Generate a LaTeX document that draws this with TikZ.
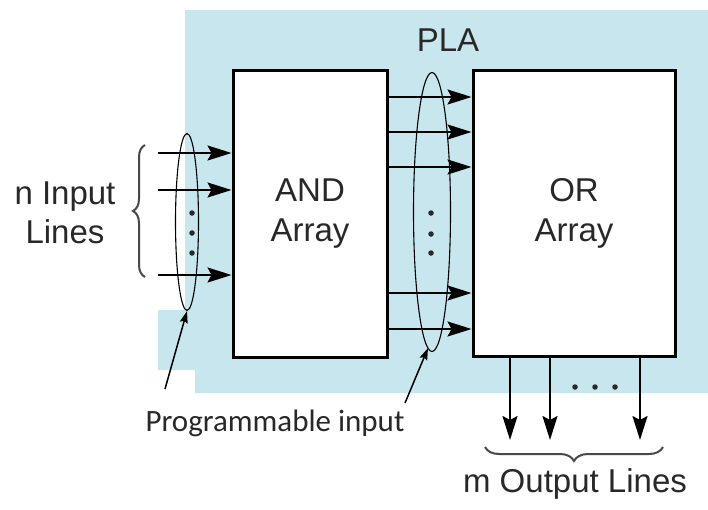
\documentclass[tikz,border=0pt]{standalone}
\usepackage{fontspec}
\setmainfont{Liberation Sans}
\newfontfamily\calfont{Carlito}
\usetikzlibrary{positioning,arrows.meta,shapes.geometric}
\usetikzlibrary{decorations.pathreplacing}
\usetikzlibrary{calc}

\definecolor{plablue}{RGB}{200,230,238}
\definecolor{inkgray}{RGB}{40,40,40}

\begin{document}
\begin{tikzpicture}[x=1pt,y=-1pt,
    arraybox/.style={draw,line width=3pt,fill=white,align=center,
      font=\fontsize{33}{40}\selectfont,text=inkgray,inner sep=0pt},
    sig/.style={line width=2pt,-{Stealth[length=24pt,width=15pt,inset=4pt]}},
    pick/.style={draw,line width=1.1pt,ellipse,inner sep=0pt},
    lbl/.style={text=inkgray,font=\fontsize{33}{39}\selectfont,align=center},
    dotm/.style={fill=inkgray,circle,inner sep=0pt,minimum size=5.5pt}]
  \useasboundingbox (0,0) rectangle (708,509);

  % PLA area
  \fill[plablue] (185,10) -- (708,10) -- (708,393) -- (195,393) -- (195,370)
    -- (158,370) -- (158,310) -- (185,310) -- cycle;
  \node[lbl] (pla) at (448,40) {PLA};

  \node[arraybox,minimum width=154pt,minimum height=287pt] (andarr) at (310,213.5) {AND\\Array};
  \node[arraybox,minimum width=202pt,minimum height=286pt] (orarr) at (574,213) {OR\\Array};

  % inputs
  \foreach \y [count=\i] in {153,190,275}{
    \coordinate (in\i) at (158,\y);
    \draw[sig] (in\i) -- (in\i -| andarr.west);
  }
  \node[pick,minimum width=23pt,minimum height=177pt] (lsel) at (187,222) {};
  \foreach \y in {213,233,253}
    \node[dotm] at (192,\y) {};

  % AND -> OR product lines
  \foreach \y [count=\i] in {97,132,167,293,329}{
    \coordinate (pt\i) at (387,\y);
    \draw[sig] (pt\i -| andarr.east) -- (pt\i -| orarr.west);
  }
  \node[pick,minimum width=37pt,minimum height=279pt] (msel) at (432,212) {};
  \foreach \y in {213,234,253}
    \node[dotm] at (431,\y) {};

  % outputs
  \foreach \x [count=\i] in {510,550,640}{
    \coordinate (out\i) at (\x,440);
    \draw[sig] (out\i |- orarr.south) -- (out\i);
  }
  \foreach \x in {575,595,615}
    \node[dotm] at (\x,387) {};

  % braces
  \draw[line width=2pt,inkgray!85,decorate,decoration={brace,amplitude=12pt}]
    (145,277) -- (145,145);
  \node[lbl] (nin) at (65,213) {n Input\\Lines};
  \draw[line width=2pt,inkgray!85,decorate,decoration={brace,amplitude=14pt,mirror}]
    (485,447) -- (663,447);
  \node[lbl] (mout) at (575,484) {m Output Lines};

  % programmable input
  \node[text=inkgray,font=\calfont\fontsize{31}{36}\selectfont] (prog) at (275,423) {Programmable input};
  \coordinate (ptl) at (165,389);
  \coordinate (ptr) at (405,403);
  \draw[line width=1.5pt,-{Stealth[length=12pt,width=8pt,inset=2pt]}] (ptl) -- (lsel.south);
  \draw[line width=1.5pt,-{Stealth[length=12pt,width=8pt,inset=2pt]}] (ptr) -- ($(msel.south)+(-4,-4)$);
\end{tikzpicture}
\end{document}
